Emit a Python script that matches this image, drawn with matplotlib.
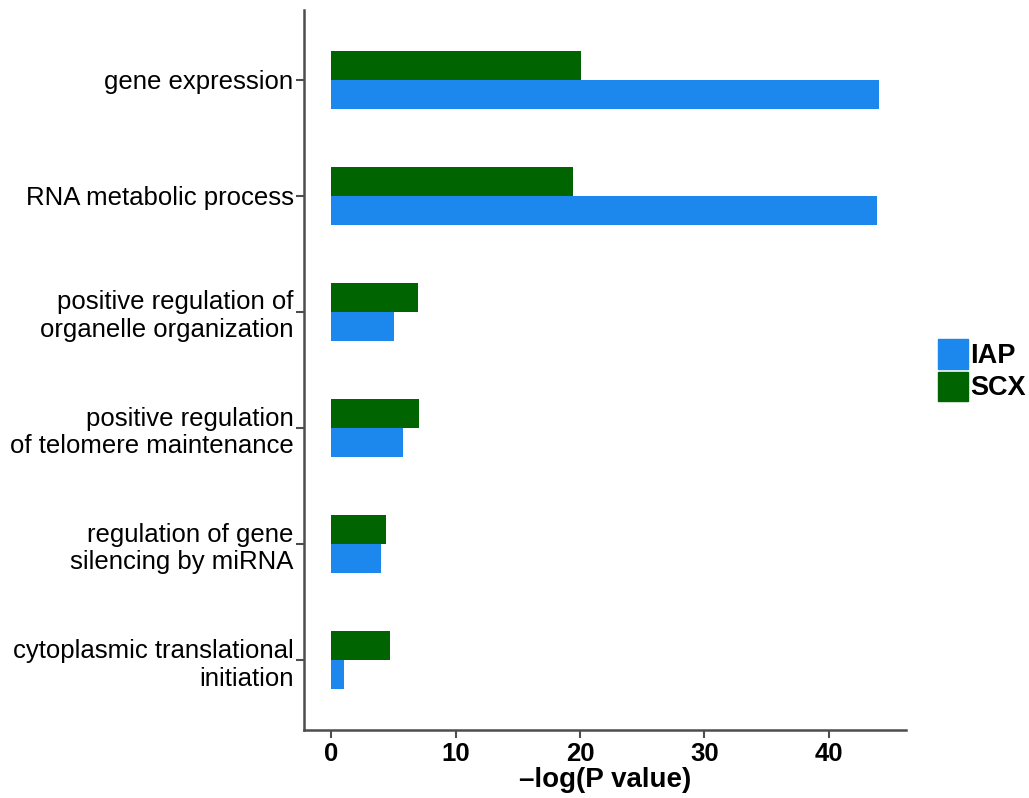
import numpy as np
import matplotlib
matplotlib.use("Agg")
import matplotlib.pyplot as plt
from matplotlib.patches import Patch

plt.rcParams["font.family"] = ["Liberation Sans", "DejaVu Sans"]

# GO terms, top to bottom
terms = [
    "gene expression",
    "RNA metabolic process",
    "positive regulation of\norganelle organization",
    "positive regulation\nof telomere maintenance",
    "regulation of gene\nsilencing by miRNA",
    "cytoplasmic translational\ninitiation",
]
iap = [44.0, 43.85, 5.07, 5.8, 4.02, 1.05]
scx = [20.1, 19.4, 7.0, 7.08, 4.42, 4.75]

IAP_COLOR = "#1c87ed"
SCX_COLOR = "#006400"
AXIS_COLOR = "#4d4d4d"

fig = plt.figure(figsize=(10.29, 7.98), dpi=100)
ax = fig.add_axes([0.2954, 0.0852, 0.585, 0.9023])

n = len(terms)
y = np.arange(n, 0, -1)  # first term on top
w = 0.25
ax.barh(y - w / 2, iap, height=w, color=IAP_COLOR, label="IAP")
ax.barh(y + w / 2, scx, height=w, color=SCX_COLOR, label="SCX")

ax.set_ylim(0.4, n + 0.6)
xmax = max(max(iap), max(scx))
ax.set_xlim(-0.05 * xmax, 1.05 * xmax)
ax.set_yticks(y)
ax.set_yticklabels(terms, fontsize=18.5, color="black", ha="right", linespacing=1.2)
ax.set_xticks([0, 10, 20, 30, 40])
ax.set_xticklabels(["0", "10", "20", "30", "40"], fontsize=18.5, fontweight="bold")
ax.set_xlabel("\u2013log(P value)", fontsize=20, fontweight="bold", labelpad=1)

for side in ("top", "right"):
    ax.spines[side].set_visible(False)
for side in ("left", "bottom"):
    ax.spines[side].set_color(AXIS_COLOR)
    ax.spines[side].set_linewidth(1.8)
ax.tick_params(axis="both", length=5.5, width=1.5, color=AXIS_COLOR)
ax.tick_params(axis="y", pad=2)
ax.tick_params(axis="x", pad=3)

handles = [Patch(color=IAP_COLOR, label="IAP"), Patch(color=SCX_COLOR, label="SCX")]
fig.legend(handles=handles, loc="center left", bbox_to_anchor=(0.9116, 0.536),
           frameon=False, handlelength=1.12, handleheight=1.3, handletextpad=0.08,
           labelspacing=0.1, borderaxespad=0, borderpad=0,
           prop={"size": 19.5, "weight": "bold"})

fig.savefig("out.png", dpi=100)
